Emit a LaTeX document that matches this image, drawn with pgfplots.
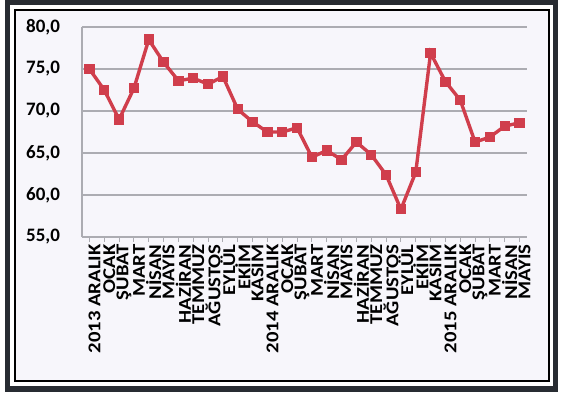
\documentclass[border=0pt]{standalone}
\usepackage{pgfplots}
\pgfplotsset{compat=1.18}
\usepackage{fontspec}
\setmainfont{Carlito}
\newfontfamily\lblfont[FakeStretch=1.15]{Carlito}
\definecolor{linered}{RGB}{208,62,76}
\definecolor{gridgray}{RGB}{172,172,178}
\definecolor{panelbg}{RGB}{247,246,251}
\definecolor{framedark}{RGB}{40,44,50}
\begin{document}
\begin{tikzpicture}[x=1pt,y=1pt]
\useasboundingbox (-41,-79.5) rectangle (240,118.5);
\fill[white] (-41,-79.5) rectangle (240,118.5);
\fill[panelbg] (-33.5,-72) rectangle (233.5,113.5);
\draw[framedark,line width=2.6pt] (-37.25,-76) rectangle (236.75,117.5);
\draw[black,line width=0.8pt] (-33.5,-72) rectangle (233.5,113.5);
\begin{axis}[
  at={(0,0)}, anchor=south west,
  width=222.5pt, height=105pt, scale only axis,
  xmin=-0.5, xmax=29.5, ymin=55, ymax=80,
  axis lines*=left,
  axis line style={gridgray, line width=0.8pt, -},
  ytick={55,60,65,70,75,80},
  ymajorgrids, grid style={gridgray, line width=0.8pt},
  ytick style={draw=none},
  xtick={0,...,29},
  xtick style={gridgray, line width=0.5pt},
  tick align=outside, major tick length=2.5pt,
  xticklabels={2013 ARALIK,OCAK,ŞUBAT,MART,NİSAN,MAYIS,HAZİRAN,TEMMUZ,AĞUSTOS,EYLÜL,EKİM,KASIM,2014 ARALIK,OCAK,ŞUBAT,MART,NİSAN,MAYIS,HAZİRAN,TEMMUZ,AĞUSTOS,EYLÜL,EKİM,KASIM,2015 ARALIK,OCAK,ŞUBAT,MART,NİSAN,MAYIS},
  x tick label style={rotate=90, anchor=east, font=\lblfont\fontsize{9}{9}\selectfont\bfseries, inner sep=1pt, yshift=-2.5pt},
  y tick label style={font=\fontsize{9.5}{10}\selectfont\bfseries, xshift=-5pt},
  /pgf/number format/assume math mode=true,
  yticklabel style={/pgf/number format/.cd, fixed, fixed zerofill, precision=1, use comma},
  clip=false,
]
\addplot[linered, line width=1.7pt, mark=square*, mark size=2.3pt, mark options={fill=linered, draw=linered, line width=0.5pt}]
coordinates {
(0,75.0) (1,72.5) (2,69.0) (3,72.7) (4,78.5) (5,75.8) (6,73.6) (7,73.9) (8,73.2) (9,74.1)
(10,70.2) (11,68.7) (12,67.5) (13,67.5) (14,68.0) (15,64.5) (16,65.3) (17,64.2) (18,66.3) (19,64.8)
(20,62.4) (21,58.3) (22,62.7) (23,76.9) (24,73.5) (25,71.3) (26,66.3) (27,66.9) (28,68.2) (29,68.6)
};
\end{axis}
\end{tikzpicture}
\end{document}
